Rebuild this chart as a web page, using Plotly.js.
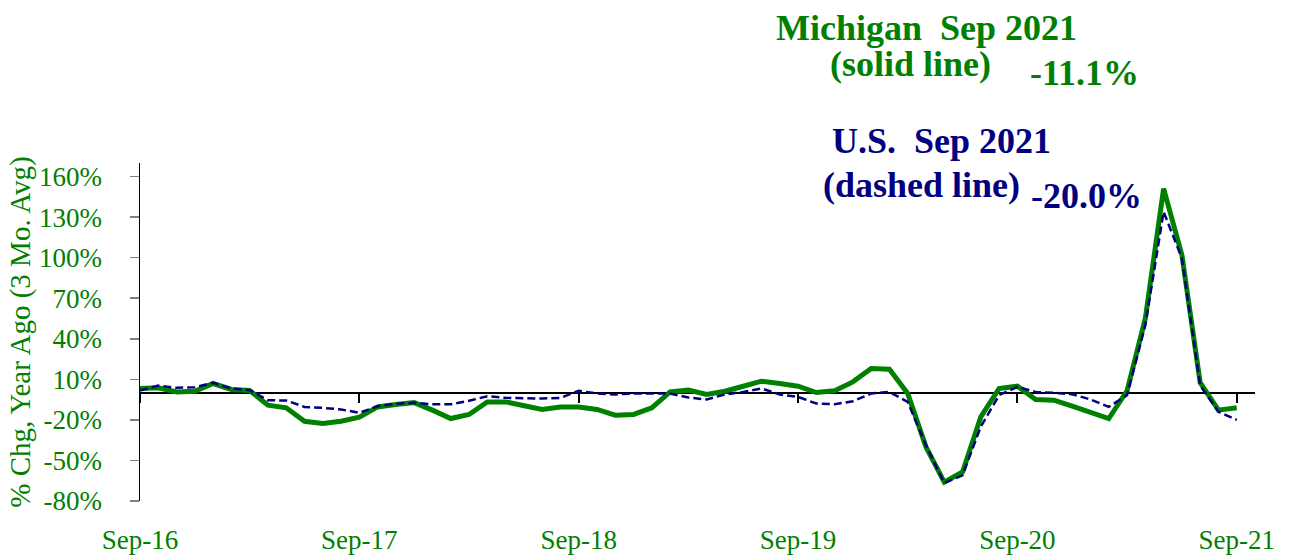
<!DOCTYPE html>
<html>
<head>
<meta charset="utf-8">
<script src="https://cdn.plot.ly/plotly-3.0.1.min.js"></script>
<style>html,body{margin:0;padding:0;background:#fff;}#chart{width:1293px;height:555px;}</style>
</head>
<body>
<div id="chart"></div>
<script>
const months = [
  "Sep-16","Oct-16","Nov-16","Dec-16",
  "Jan-17","Feb-17","Mar-17","Apr-17","May-17","Jun-17","Jul-17","Aug-17","Sep-17","Oct-17","Nov-17","Dec-17",
  "Jan-18","Feb-18","Mar-18","Apr-18","May-18","Jun-18","Jul-18","Aug-18","Sep-18","Oct-18","Nov-18","Dec-18",
  "Jan-19","Feb-19","Mar-19","Apr-19","May-19","Jun-19","Jul-19","Aug-19","Sep-19","Oct-19","Nov-19","Dec-19",
  "Jan-20","Feb-20","Mar-20","Apr-20","May-20","Jun-20","Jul-20","Aug-20","Sep-20","Oct-20","Nov-20","Dec-20",
  "Jan-21","Feb-21","Mar-21","Apr-21","May-21","Jun-21","Jul-21","Aug-21","Sep-21"
];
const michigan = [
  3.2, 3.7, 0.7, 1.2,
  6.9, 2.5, 1.7, -9.1, -11.1, -21, -22.7, -21, -18, -10.4, -8.6, -7.2,
  -12.8, -19, -16, -6.7, -6.7, -9.9, -12.3, -10.4, -10.4, -12.3, -16.5, -16,
  -11.1, 0.7, 2, -1.2, 1.2, 4.9, 8.6, 6.9, 4.9, 0.2, 1.5, 8.1,
  18, 17.5, -0.5, -40, -66, -58.5, -17.8, 3.2, 4.9, -4.9, -5.4, -9.9,
  -14, -19, 1.5, 55, 151, 102, 7.5, -12.8, -11.1
];
const us = [
  1.7, 5.4, 3.7, 4.2,
  7.4, 3.2, 2.0, -5.4, -5.7, -10.4, -11.1, -12.3, -14.8, -9.9, -8.1, -7.4,
  -8.4, -8.4, -5.9, -2.5, -3.7, -4.2, -4.2, -3.7, 1.5, -0.5, -1.2, -0.5,
  -0.5, -0.5, -3.5, -4.9, -1.2, 0.7, 3.2, -1.2, -3, -7.9, -8.4, -6.2,
  -0.5, 0.7, -6.7, -38.8, -66.7, -61, -25, -1.7, 4.4, 0.7, 0, -1,
  -4.9, -10.4, -1.7, 50, 134, 99.5, 5.5, -14, -20
];
const xTickLabels = ["Sep-16","Sep-17","Sep-18","Sep-19","Sep-20","Sep-21"];
const yTicks = [-80, -50, -20, 10, 40, 70, 100, 130, 160];
const yTickText = ["-80%","-50%","-20%","10%","40%","70%","100%","130%","160%"];

const GREEN = "#008000";
const NAVY = "#000080";
const FONT = "Liberation Serif, Times New Roman, serif";

const W = 1293, H = 555;
const M = {l: 140, r: 38, t: 163, b: 54};
const PW = W - M.l - M.r, PH = H - M.t - M.b;
const px = x => (x - M.l) / PW;
const py = y => (H - M.b - y) / PH;
const yMin = -80, yMax = 170;

const traces = [
  {x: months, y: michigan, type: "scatter", mode: "lines", name: "Michigan",
   line: {color: GREEN, width: 5}, xaxis: "x", yaxis: "y", hoverinfo: "skip"},
  {x: months, y: us, type: "scatter", mode: "lines", name: "U.S.",
   line: {color: NAVY, width: 2.5, dash: "8px,4px"}, xaxis: "x2", yaxis: "y", hoverinfo: "skip"}
];

const lastMi = michigan[michigan.length - 1].toFixed(1) + "%";
const lastUs = us[us.length - 1].toFixed(1) + "%";

const ann = (text, x, y, color) => ({
  text: text, xref: "paper", yref: "paper", x: px(x), y: py(y),
  xanchor: "center", yanchor: "middle", showarrow: false,
  font: {family: FONT, size: 36, color: color, weight: "bold"}
});

const layout = {
  width: W, height: H,
  margin: M,
  paper_bgcolor: "#fff", plot_bgcolor: "#fff",
  showlegend: false,
  font: {family: FONT, color: GREEN},
  xaxis: {
    type: "category", categoryorder: "array", categoryarray: months,
    range: [0, 61], showgrid: false, zeroline: false, showline: false,
    ticks: "", tickvals: xTickLabels, ticktext: xTickLabels,
    tickfont: {family: FONT, size: 27, color: GREEN},
    ticklabelstandoff: 20, fixedrange: true
  },
  xaxis2: {
    type: "category", categoryorder: "array", categoryarray: months,
    overlaying: "x", anchor: "free", position: (0 - yMin) / (yMax - yMin),
    side: "bottom", range: [0, 61], showgrid: false, zeroline: false, showline: false,
    ticks: "outside", ticklen: 9, tickwidth: 2, tickcolor: "#000",
    tickvals: xTickLabels, showticklabels: false, fixedrange: true
  },
  yaxis: {
    range: [yMin, yMax], tickmode: "array", tickvals: yTicks, ticktext: yTickText,
    showgrid: false, zeroline: true, zerolinecolor: "#000", zerolinewidth: 2,
    showline: true, linecolor: "#000", linewidth: 1.5,
    ticks: "outside", ticklen: 9, tickwidth: 1.5, tickcolor: "#808080",
    tickfont: {family: FONT, size: 27, color: GREEN},
    ticklabelstandoff: 22,
    title: {text: "% Chg, Year Ago (3 Mo. Avg)", font: {family: FONT, size: 29, color: GREEN}, standoff: 0},
    fixedrange: true
  },
  annotations: [
    ann("Michigan  Sep 2021", 926, 28, GREEN),
    ann("(solid line)", 910, 64, GREEN),
    ann(lastMi, 1084, 73, GREEN),
    ann("U.S.  Sep 2021", 941, 141, NAVY),
    ann("(dashed line)", 921, 185, NAVY),
    ann(lastUs, 1086, 196, NAVY)
  ]
};

Plotly.newPlot("chart", traces, layout, {staticPlot: true, displayModeBar: false});
</script>
</body>
</html>
